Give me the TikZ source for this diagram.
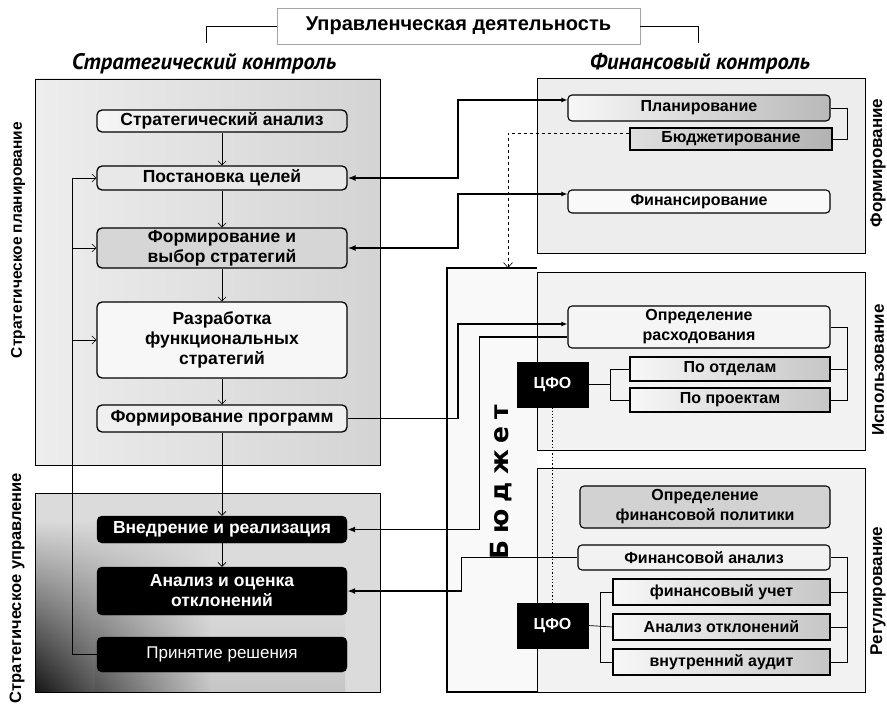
\documentclass[tikz,border=0pt]{standalone}
\usepackage{fontspec}
\setmainfont{Liberation Sans}
\newfontfamily\hdrfamily{PT Sans}
\newfontfamily\heavyfamily{DejaVu Sans}
\usetikzlibrary{arrows.meta,fadings}
\tikzfading[name=faderight,left color=transparent!0,right color=transparent!100]
\newcommand\boxfont{\fontsize{17.5}{20}\selectfont\bfseries}
\newcommand\rboxfont{\fontsize{16}{20}\selectfont\bfseries}
\newcommand\sidefont{\fontsize{17}{19}\selectfont}
\begin{document}
\begin{tikzpicture}[x=1pt,y=-1pt,
  panel/.style={draw=black,line width=0.9pt},
  lbox/.style={draw=black,line width=1.3pt,rounded corners=5pt,inner sep=0pt,
    font=\boxfont,align=center,minimum width=250pt},
  dbox/.style={fill=black,draw=black,rounded corners=5pt,inner sep=0pt,
    font=\boxfont,text=white,align=center,minimum width=250pt},
  rbox/.style={draw=black,line width=1.1pt,rounded corners=4pt,inner sep=0pt,
    font=\rboxfont,align=center},
  sbox/.style={draw=black,line width=1.1pt,inner sep=0pt,font=\rboxfont,
    align=center,left color=gray!6,right color=gray!45},
  cfo/.style={fill=black,draw=black,inner sep=0pt,font=\rboxfont,text=white,
    minimum width=71pt,minimum height=45pt},
  flow/.style={-{Straight Barb[length=4pt,width=8pt]},line width=0.6pt},
  link/.style={line width=1.8pt},
  brk/.style={line width=0.7pt},
  side/.style={rotate=90,font=\sidefont\bfseries}]
\useasboundingbox (0,0) rectangle (887,706);

% ---------- panels ----------
\shade[left color=gray!14,right color=gray!34] (35,79) rectangle (380,465);
\draw[panel] (35,79) rectangle (380,465);
\fill[gray!28] (35,493) rectangle (380,692);
\shade[top color=gray!28,bottom color=gray!45] (95,600) rectangle (345,692);
\shade[top color=gray!28,bottom color=black!92,path fading=faderight] (35,520) rectangle (210,692);
\draw[panel] (35,493) rectangle (380,692);

\fill[gray!5] (447,268) rectangle (537,692);
\draw[line width=1.1pt] (537,268) -- (447,268) -- (447,692) -- (865,692);

\fill[gray!14] (537,78) rectangle (865,253);
\draw[panel] (537,78) rectangle (865,253);
\fill[gray!10] (537,272) rectangle (865,450);
\draw[panel] (537,272) rectangle (865,450);
\fill[gray!10] (537,468) rectangle (865,692);
\draw[panel] (537,468) rectangle (865,692);

% ---------- headings ----------
\node[draw=gray!70,line width=0.8pt,fill=white,minimum width=363pt,minimum height=36pt,
  inner sep=0pt,font=\fontsize{20}{22}\selectfont\bfseries] (ttl) at (458.5,26)
  {Управленческая деятельность};
\draw[line width=0.7pt] (ttl.west) -- ++(-70,0) -- ++(0,17);
\draw[line width=0.7pt] (ttl.east) -- ++(58,0) -- ++(0,17);
\node[font=\hdrfamily\bfseries\itshape\fontsize{22.5}{24}\selectfont] (hs) at (204,64) {Стратегический контроль};
\node[font=\hdrfamily\bfseries\itshape\fontsize{22.5}{24}\selectfont] (hf) at (700,64) {Финансовый контроль};

\node[side,font=\fontsize{15.5}{18}\selectfont\bfseries] (lplan) at (18,240) {Стратегическое планирование};
\node[side,font=\fontsize{16.5}{18}\selectfont\bfseries] (lupr) at (17,588) {Стратегическое управление};
\node[side] (rform) at (878,163) {Формирование};
\node[side] (ruse) at (878,370) {Использование};
\node[side] (rreg) at (878,591) {Регулирование};

% ---------- strategic control ----------
\node[lbox,minimum height=22pt,left color=gray!8,right color=gray!30] (SA) at (222,121) {Стратегический анализ};
\node[lbox,minimum height=24pt,fill=gray!18] (PC) at (222,178) {Постановка целей};
\node[lbox,minimum height=40pt,fill=gray!32] (FV) at (222,248) {Формирование и\\выбор стратегий};
\node[lbox,minimum height=76pt,fill=gray!6] (RF) at (222,340) {Разработка\\функциональных\\стратегий};
\node[lbox,minimum height=27pt,fill=gray!12] (FP) at (222,418.5) {Формирование программ};
\node[dbox,minimum height=27pt] (VR) at (222,529.5) {Внедрение и реализация};
\node[dbox,minimum height=48pt] (AO) at (222,591) {Анализ и оценка\\отклонений};
\node[dbox,minimum height=35pt,font=\fontsize{17}{20}\selectfont] (PR) at (222,654.5) {Принятие решения};

\draw[flow] (SA) -- (PC);
\draw[flow] (PC) -- (FV);
\draw[flow] (FV) -- (RF);
\draw[flow] (RF) -- (FP);
\draw[flow] (FP) -- (VR);
\draw[flow] (VR) -- (AO);

\coordinate (fb) at (72,0);
\draw[flow] (PR.west) -- (PR.west -| fb) -- (PC.west -| fb) -- (PC.west);
\draw[flow] (FV.west -| fb) -- (FV.west);
\draw[flow] (RF.west -| fb) -- (RF.west);

% ---------- financial control ----------
\node[rbox,minimum width=262pt,minimum height=26pt,left color=gray!6,right color=gray!55] (PL) at (699,108) {Планирование};
\node[sbox,minimum width=202pt,minimum height=22pt,left color=gray!25,right color=gray!60] (BJ) at (731,139) {Бюджетирование};
\node[rbox,minimum width=262pt,minimum height=23pt,fill=gray!5] (FN) at (699,201.5) {Финансирование};
\draw[brk] (PL.east) -- ++(17,0) |- (BJ.east);

\node[rbox,minimum width=262pt,minimum height=42pt,fill=gray!8] (OR) at (699,327) {Определение\\расходования};
\node[sbox,minimum width=200pt,minimum height=24pt] (PO) at (730,369) {По отделам};
\node[sbox,minimum width=200pt,minimum height=24pt] (PP) at (730,400) {По проектам};
\node[cfo] (C1) at (552.5,384.5) {ЦФО};
\draw[brk] (OR.east) -- ++(17,0) |- (PP.east);
\draw[brk] (PO.east) -- ++(17,0);
\draw[brk] (C1.east) -- ++(22,0) coordinate (c1b);
\draw[brk] (PO.west) -| (c1b) |- (PP.west);

\node[rbox,minimum width=250pt,minimum height=42pt,fill=gray!35] (OF) at (705,507) {Определение\\финансовой политики};
\node[rbox,minimum width=252pt,minimum height=25pt,fill=gray!10] (FA) at (704,557.5) {Финансовой анализ};
\node[sbox,minimum width=217pt,minimum height=26pt] (FU) at (721.5,592) {финансовый учет};
\node[sbox,minimum width=217pt,minimum height=26pt] (AN) at (721.5,627) {Анализ отклонений};
\node[sbox,minimum width=217pt,minimum height=26pt] (VA) at (721.5,662) {внутренний аудит};
\node[cfo] (C2) at (552.5,625.5) {ЦФО};
\draw[brk] (FA.east) -- ++(17,0) |- (VA.east);
\draw[brk] (FU.east) -- ++(17,0);
\draw[brk] (AN.east) -- ++(17,0);
\draw[brk] (C2.east) -- (AN.west);
\coordinate (c2b) at (600,0);
\draw[brk] (FU.west) -- (FU.west -| c2b) -- (VA.west -| c2b) -- (VA.west);

\draw[line width=1.3pt,dotted] (C1.south) -- (C2.north);

\node[rotate=90,font=\heavyfamily\fontsize{25}{28}\selectfont\bfseries] (bud) at (501,482)
  {Б\kern7ptю\kern7ptд\kern7ptж\kern7ptе\kern7ptт};

% ---------- links between the two controls ----------
\coordinate (ja) at (458,0);
\draw[link,{Latex[length=8pt,width=6pt]}-{Latex[length=6pt,width=5pt]}]
  (PC.east) -- (PC.east -| ja) |- ([yshift=8pt]PL.west);
\draw[link,{Latex[length=8pt,width=6pt]}-{Latex[length=6pt,width=5pt]}]
  (FV.east) -- (FV.east -| ja) |- ([yshift=7.5pt]FN.west);
\draw[link,-{Latex[length=6pt,width=5pt]}]
  (FP.east) -- (FP.east -| ja) |- ([yshift=3pt]OR.west);
\draw[link,-{Latex[length=8pt,width=6pt]}]
  ([yshift=-10pt]OR.west) -- ++(-88,0) |- (VR.east);
\draw[link,-{Latex[length=8pt,width=6pt]}]
  (FA.west) -- ++(-116,0) |- (AO.east);

\coordinate (bt) at (508,268);
\draw[dashed,line width=0.6pt,-{Straight Barb[length=5pt,width=9pt]}]
  ([yshift=6pt]BJ.west) -| (bt);
\end{tikzpicture}
\end{document}
